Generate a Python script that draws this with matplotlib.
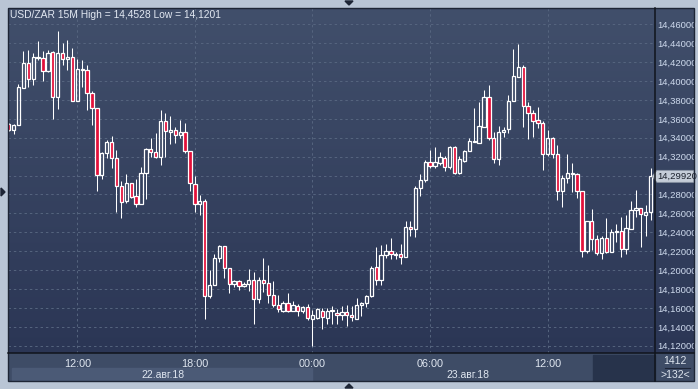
import numpy as np
import pandas as pd
import matplotlib
matplotlib.use("Agg")
import matplotlib.pyplot as plt
import matplotlib.dates as mdates
from matplotlib.patches import Rectangle, Polygon
from matplotlib.colors import LinearSegmentedColormap

W, H = 698, 389

# USD/ZAR 15M bars, 22.08.2018 08:30 .. 23.08.2018 17:15
opens = [14.355, 14.348, 14.354, 14.393, 14.419, 14.402, 14.426, 14.424, 14.411, 14.4305,
         14.383, 14.4294, 14.423, 14.426, 14.379, 14.412, 14.412, 14.387, 14.371, 14.301,
         14.324, 14.336, 14.319, 14.289, 14.273, 14.292, 14.278, 14.270, 14.3025, 14.328,
         14.3247, 14.3194, 14.358, 14.347, 14.348, 14.3427, 14.3458, 14.3264, 14.291, 14.2697,
         14.2728, 14.173, 14.184, 14.2125, 14.2255, 14.2018, 14.185, 14.1885, 14.1835, 14.185,
         14.190, 14.1697, 14.1895, 14.1864, 14.1737, 14.1628, 14.157, 14.1652, 14.157, 14.1617,
         14.157, 14.1606, 14.148, 14.1497, 14.157, 14.1497, 14.1565, 14.1545, 14.1525, 14.156,
         14.152, 14.148, 14.1628, 14.1649, 14.1726, 14.203, 14.1892, 14.2157, 14.220, 14.217,
         14.2166, 14.214, 14.2453, 14.2432, 14.2866, 14.295, 14.3141, 14.3105, 14.3137, 14.3186,
         14.3088, 14.330, 14.3025, 14.3158, 14.3264, 14.3355, 14.3348, 14.3518, 14.3829, 14.3395,
         14.3172, 14.3458, 14.3493, 14.3793, 14.4047, 14.415, 14.374, 14.366, 14.3586, 14.3554,
         14.3225, 14.3395, 14.3225, 14.2842, 14.2971, 14.3014, 14.3017, 14.2842, 14.2205, 14.252,
         14.2326, 14.2184, 14.2337, 14.2195, 14.240, 14.241, 14.222, 14.2432, 14.2633, 14.2654,
         14.258, 14.2612]
highs = [14.356, 14.355, 14.397, 14.432, 14.433, 14.430, 14.442, 14.432, 14.433, 14.432,
         14.4528, 14.440, 14.4435, 14.435, 14.423, 14.422, 14.417, 14.389, 14.371, 14.325,
         14.338, 14.342, 14.327, 14.294, 14.302, 14.292, 14.296, 14.309, 14.3295, 14.3395,
         14.345, 14.3694, 14.366, 14.363, 14.351, 14.359, 14.356, 14.3264, 14.2995, 14.2795,
         14.2753, 14.2001, 14.217, 14.2266, 14.2255, 14.2018, 14.190, 14.1895, 14.187, 14.2012,
         14.1978, 14.193, 14.2128, 14.2058, 14.1885, 14.1737, 14.167, 14.1758, 14.167, 14.164,
         14.162, 14.164, 14.158, 14.160, 14.160, 14.1597, 14.162, 14.1585, 14.162, 14.1628,
         14.162, 14.1705, 14.1666, 14.1737, 14.2043, 14.2244, 14.2266, 14.2273, 14.2337, 14.2195,
         14.2276, 14.252, 14.252, 14.289, 14.3017, 14.3165, 14.327, 14.330, 14.3247, 14.3207,
         14.3313, 14.3313, 14.3207, 14.327, 14.340, 14.3715, 14.3779, 14.3906, 14.3959, 14.3465,
         14.3525, 14.3511, 14.3853, 14.434, 14.4393, 14.417, 14.3782, 14.3695, 14.3723, 14.3581,
         14.3482, 14.3405, 14.3324, 14.3007, 14.3226, 14.3137, 14.3024, 14.2842, 14.252, 14.2647,
         14.2371, 14.2361, 14.2555, 14.2435, 14.2488, 14.2559, 14.2583, 14.2728, 14.2848, 14.2654,
         14.2689, 14.3083]
lows = [14.347, 14.344, 14.354, 14.393, 14.394, 14.396, 14.422, 14.400, 14.410, 14.360,
        14.370, 14.417, 14.412, 14.379, 14.379, 14.394, 14.369, 14.354, 14.284, 14.296,
        14.319, 14.308, 14.262, 14.2555, 14.271, 14.276, 14.267, 14.270, 14.2756, 14.320,
        14.319, 14.311, 14.3194, 14.333, 14.335, 14.340, 14.324, 14.284, 14.261, 14.2587,
        14.1483, 14.1708, 14.184, 14.209, 14.192, 14.176, 14.1825, 14.179, 14.1822, 14.178,
        14.1427, 14.1655, 14.1765, 14.165, 14.1606, 14.1553, 14.156, 14.156, 14.1565, 14.151,
        14.155, 14.147, 14.1201, 14.148, 14.1377, 14.1427, 14.143, 14.1427, 14.147, 14.141,
        14.1465, 14.148, 14.151, 14.1606, 14.1715, 14.1842, 14.1842, 14.2125, 14.2115, 14.2115,
        14.2068, 14.214, 14.2364, 14.2354, 14.2787, 14.2935, 14.3077, 14.3077, 14.3112, 14.3052,
        14.307, 14.3017, 14.3017, 14.3147, 14.3264, 14.3355, 14.3348, 14.3518, 14.3377, 14.3137,
        14.3112, 14.3405, 14.3454, 14.3793, 14.4043, 14.3517, 14.339, 14.3413, 14.3508, 14.306,
        14.3207, 14.3183, 14.2742, 14.2671, 14.2925, 14.283, 14.276, 14.2142, 14.2177, 14.2213,
        14.216, 14.2114, 14.2178, 14.2195, 14.2297, 14.2142, 14.2167, 14.2432, 14.2565, 14.2248,
        14.2364, 14.253]
closes = [14.348, 14.354, 14.3935, 14.419, 14.402, 14.426, 14.424, 14.411, 14.430, 14.383,
          14.4294, 14.423, 14.426, 14.379, 14.4125, 14.413, 14.387, 14.371, 14.301, 14.324,
          14.336, 14.319, 14.289, 14.272, 14.292, 14.277, 14.270, 14.3025, 14.328, 14.3247,
          14.3194, 14.358, 14.347, 14.3475, 14.3427, 14.3458, 14.3264, 14.292, 14.2697, 14.2728,
          14.173, 14.184, 14.2125, 14.2255, 14.2018, 14.185, 14.1885, 14.1835, 14.1856, 14.1895,
          14.1697, 14.1895, 14.186, 14.1737, 14.1628, 14.1585, 14.1652, 14.157, 14.1628, 14.157,
          14.1606, 14.149, 14.1525, 14.1585, 14.150, 14.157, 14.1578, 14.1525, 14.156, 14.153,
          14.150, 14.1628, 14.1649, 14.1726, 14.2022, 14.1892, 14.2157, 14.220, 14.217, 14.2165,
          14.214, 14.2453, 14.2432, 14.2866, 14.295, 14.3141, 14.3098, 14.3141, 14.3194, 14.3088,
          14.330, 14.3025, 14.3172, 14.3264, 14.3363, 14.3358, 14.3522, 14.3829, 14.3395, 14.3172,
          14.3465, 14.3487, 14.3793, 14.4054, 14.415, 14.374, 14.366, 14.3582, 14.3554, 14.3225,
          14.3395, 14.3225, 14.2842, 14.2971, 14.3024, 14.3024, 14.2842, 14.2205, 14.252, 14.2326,
          14.2178, 14.2337, 14.2195, 14.2403, 14.241, 14.222, 14.2442, 14.2633, 14.2654, 14.259,
          14.2612, 14.2992]

time_ticks = ["2018-08-22 12:00", "2018-08-22 18:00", "2018-08-23 00:00",
              "2018-08-23 06:00", "2018-08-23 12:00"]
time_labels = ["12:00", "18:00", "00:00", "06:00", "12:00"]
price_ticks = np.arange(14.12, 14.4601, 0.02)
last_price = closes[-1]

times = pd.date_range("2018-08-22 08:30", periods=len(opens), freq="15min")
x = mdates.date2num(times)
bar = 1 / 96.0

fig = plt.figure(figsize=(W / 100, H / 100), dpi=100, facecolor="#b9c5d5")


def px_axes(x0, y0, x1, y1, **kw):
    return fig.add_axes([x0 / W, 1 - y1 / H, (x1 - x0) / W, (y1 - y0) / H], **kw)


# gradient background behind plot and price scale
bg = px_axes(8.3, 8.3, 694, 353)
grad = np.linspace(0, 1, 256).reshape(-1, 1)
cmap = LinearSegmentedColormap.from_list("bg", ["#414f6b", "#2b3655"])
bg.imshow(grad, aspect="auto", cmap=cmap, extent=[0, 1, 0, 1])
bg.set_axis_off()
bg.set_zorder(0)

# bottom time strip
bot = px_axes(8.3, 353, 694, 381)
bot.set_xlim(8.3, 694)
bot.set_ylim(381, 353)
bot.set_axis_off()
bot.add_patch(Rectangle((8.3, 353), 686, 28, color="#3e4c66"))
bot.add_patch(Rectangle((12, 368), 300, 13, color="#4b5a76"))
bot.add_patch(Rectangle((593, 355), 62, 26, color="#27334b"))
txt = dict(color="#dfe6f0", fontsize=7.5, ha="center", va="center", family="Liberation Sans")
bot.text(163, 375, "22.авг.18", **txt)
bot.text(468, 375, "23.авг.18", **txt)
bot.text(675, 361, "1412", **txt)
bot.plot([665, 690], [368, 368], color="#1c2436", lw=0.8)
bot.text(675, 375, ">132<", **txt)
bot.set_zorder(1)

# main candle chart
ax = px_axes(8.3, 8.3, 655, 353)
ax.set_zorder(2)
ax.patch.set_alpha(0)
t12 = mdates.date2num(pd.Timestamp("2018-08-22 12:00"))
ax.set_xlim(t12 - 14.08 * bar, t12 + 117.9 * bar)
ax.set_ylim(14.1123, 14.477)

red = "#e3103a"
wick_w = 0.75
for xi, o, h, l, c in zip(x, opens, highs, lows, closes):
    top, btm = max(o, c), min(o, c)
    if top - btm < 0.0012:
        mid = (top + btm) / 2
        top, btm = mid + 0.0006, mid - 0.0006
    ax.vlines(xi, top, h, color="white", lw=wick_w, zorder=3)
    ax.vlines(xi, l, btm, color="white", lw=wick_w, zorder=3)
    face = red if c < o else "none"
    ax.add_patch(Rectangle((xi - 0.34 * bar, btm), 0.68 * bar, top - btm,
                           facecolor=face, edgecolor="white", lw=0.9, zorder=4))

ax.set_yticks(price_ticks)
ax.set_yticklabels([f"{p:.5f}".replace(".", ",") for p in price_ticks])
ax.yaxis.tick_right()
ax.set_xticks(mdates.date2num(pd.to_datetime(time_ticks)))
ax.set_xticklabels(time_labels)
ax.tick_params(axis="both", length=0, colors="#cfdbee", labelsize=6.8)
ax.tick_params(axis="x", pad=4, colors="#dfe6f0", labelsize=7.8)
ax.tick_params(axis="y", pad=2)
for lab in ax.get_xticklabels() + ax.get_yticklabels():
    lab.set_family("Liberation Sans")
ax.grid(True, color="#56657f", lw=0.7, ls=(0, (2.5, 3)))
for s in ax.spines.values():
    s.set_visible(False)

# last price marker on scale
lp = px_axes(652, 8.3, 694, 353)
lp.set_zorder(5)
lp.set_xlim(652, 694)
lp.set_ylim(14.1123, 14.477)
lp.set_axis_off()
hh = 6 / 945
lp.add_patch(Polygon([(652, last_price), (657, last_price + hh), (694, last_price + hh),
                      (694, last_price - hh), (657, last_price - hh)],
                     closed=True, facecolor="#c5cdd8", edgecolor="#8a94a4", lw=0.6))
lp.text(657.5, last_price, f"{last_price:.5f}".replace(".", ","), color="#1a1f2a",
        fontsize=6.8, va="center", ha="left", family="Liberation Sans")

# frame decorations in pixel space
ov = px_axes(0, 0, W, H)
ov.set_zorder(6)
ov.set_xlim(0, W)
ov.set_ylim(H, 0)
ov.set_axis_off()
ov.patch.set_alpha(0)
ov.plot([8.3, 694], [353, 353], color="#10141c", lw=1.1)
ov.plot([655, 655], [8.3, 381], color="#10141c", lw=1.1)
ov.add_patch(Rectangle((8.3, 8.3), 685.7, 372.7, fill=False, edgecolor="#1d2535", lw=1))
ov.add_patch(Polygon([(345, 1), (353, 1), (349, 5)], color="#1d2535"))
ov.add_patch(Polygon([(345, 388), (353, 388), (349, 384)], color="#1d2535"))
ov.add_patch(Polygon([(1, 188), (1, 196), (5, 192)], color="#1d2535"))
ov.text(10, 14.5, "USD/ZAR 15M High = 14,4528 Low = 14,1201", color="#e2e8f2",
        fontsize=7.4, ha="left", va="center", family="Liberation Sans")

fig.savefig("out.png", dpi=100, facecolor=fig.get_facecolor())
